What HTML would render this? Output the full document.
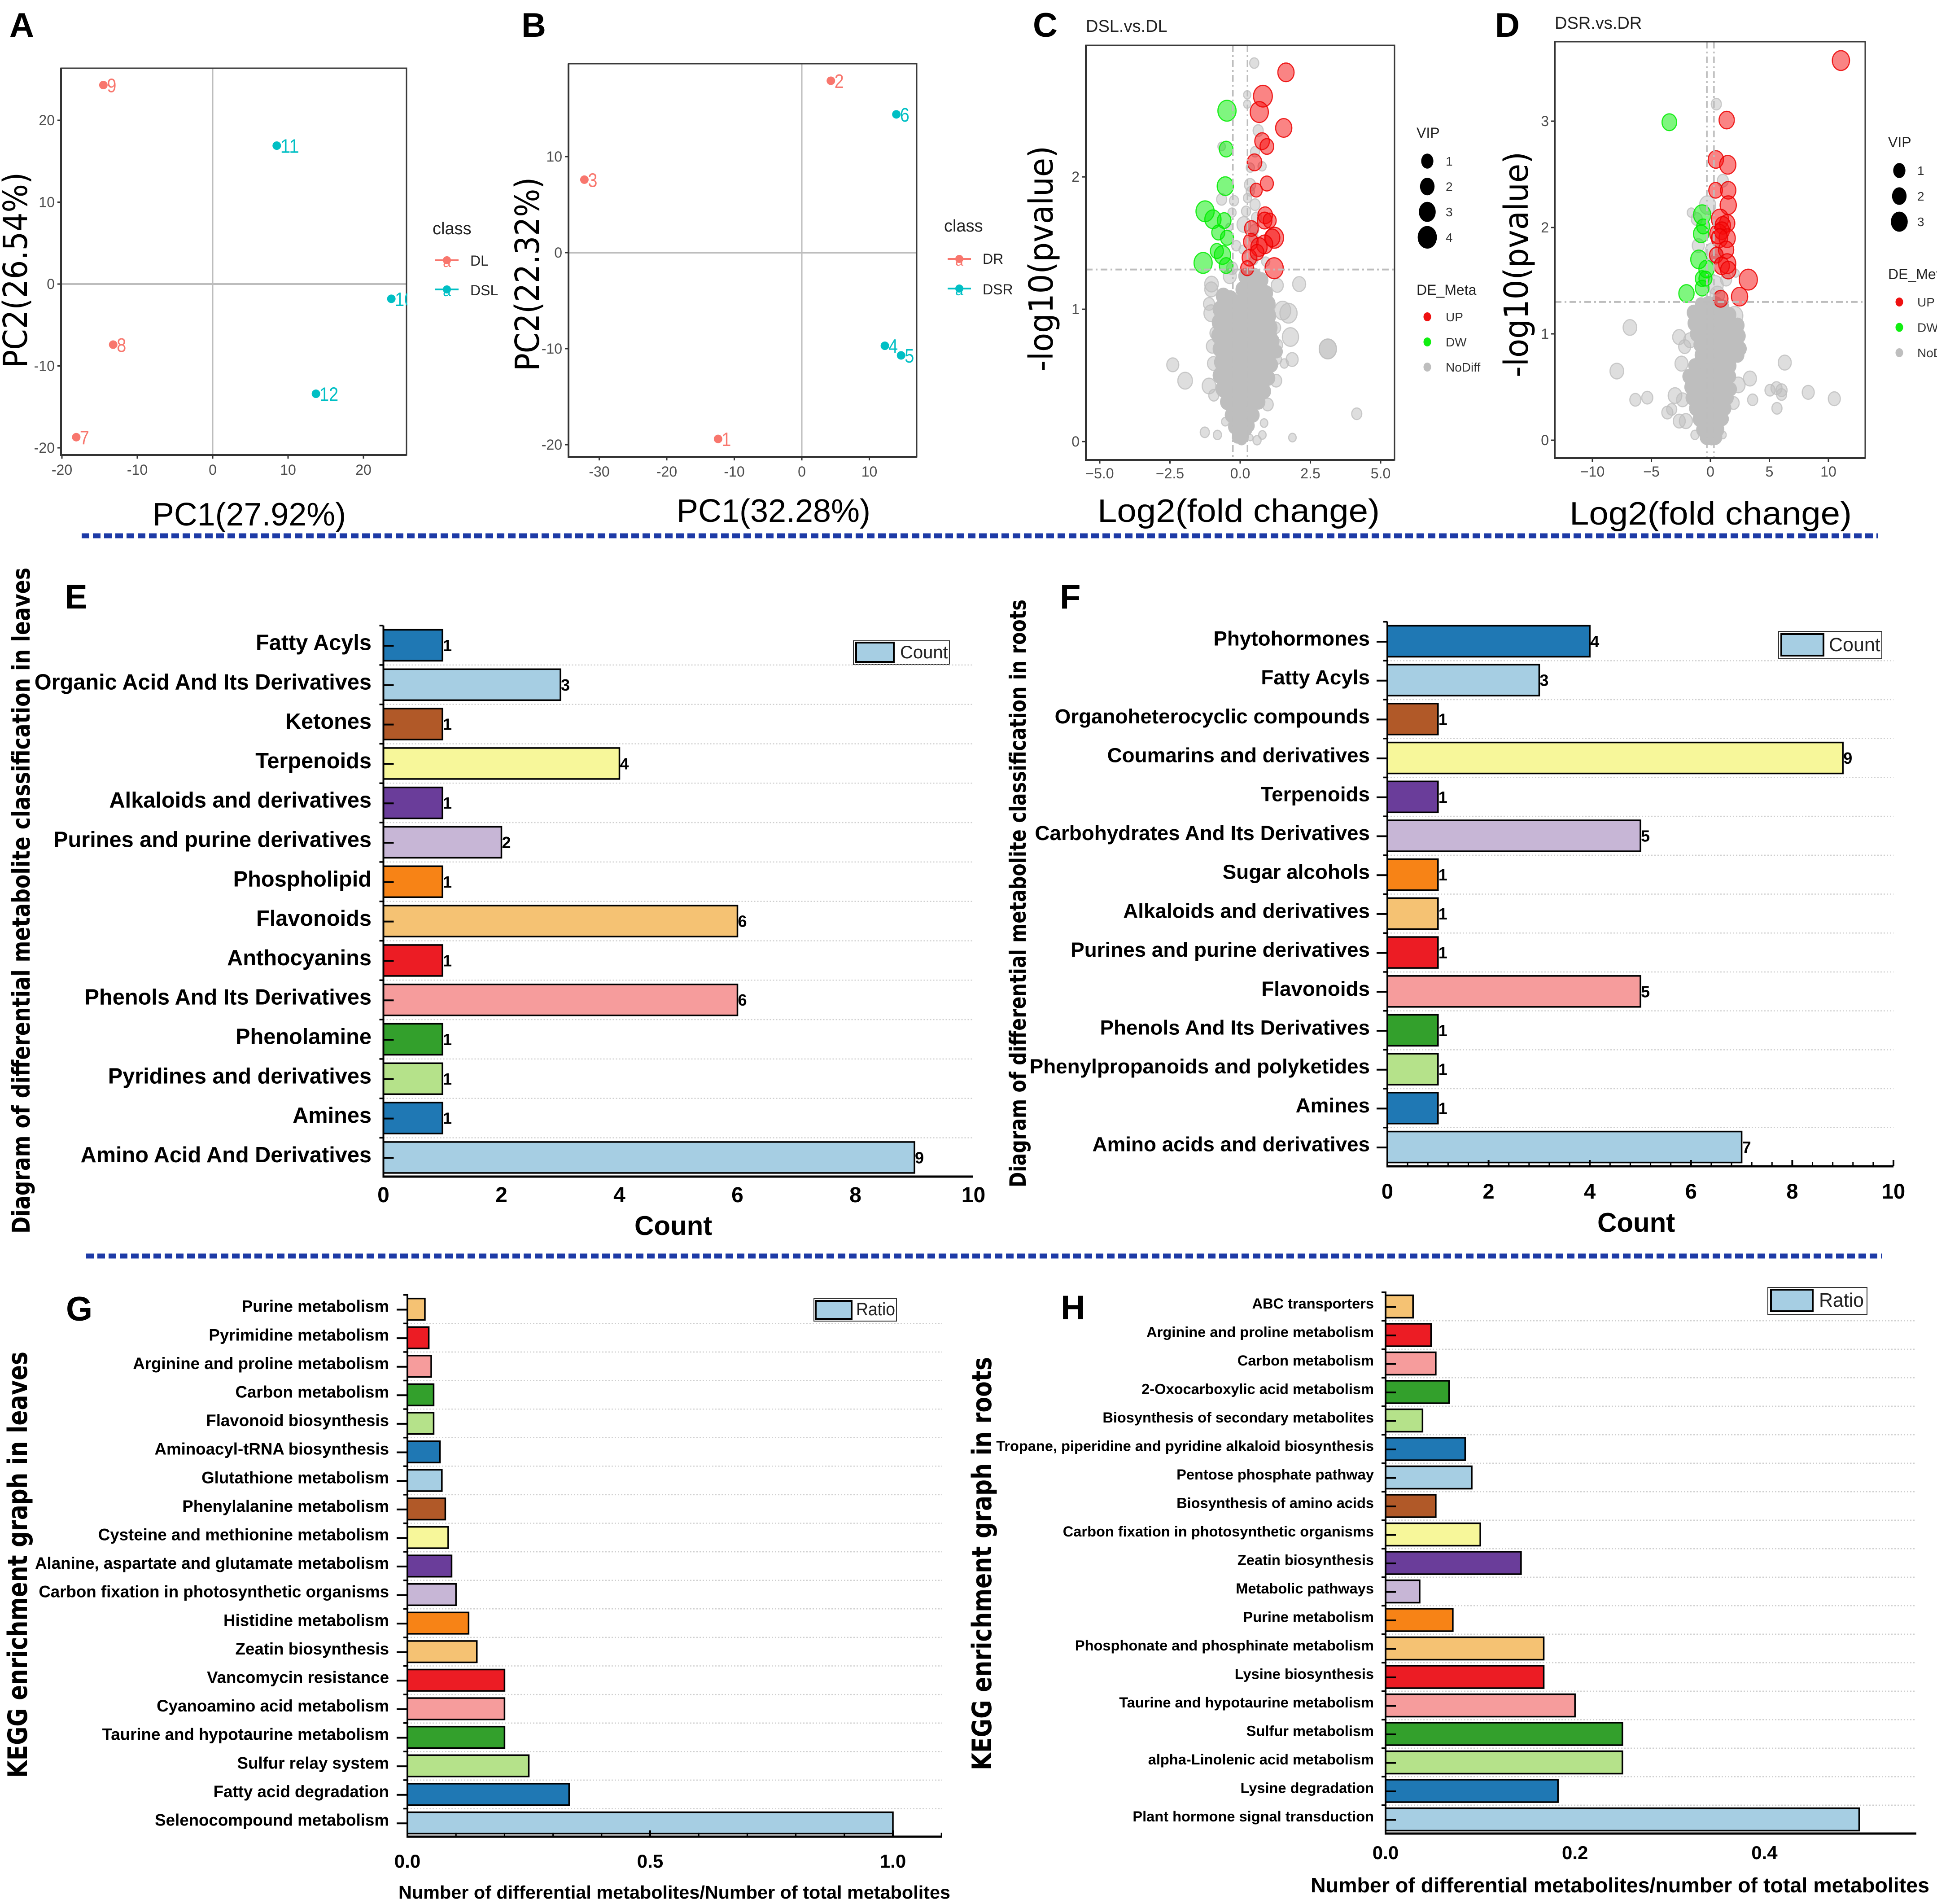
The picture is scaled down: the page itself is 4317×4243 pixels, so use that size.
<!DOCTYPE html>
<html lang="en">
<head>
<meta charset="utf-8">
<title>Metabolomics multi-panel figure</title>
<style>
html,body{margin:0;padding:0;background:#fff;width:4317px;height:4243px;overflow:hidden}
svg{display:block}
text{font-family:"Liberation Sans",sans-serif}
.wide{font-family:"DejaVu Sans",sans-serif}
.wideb{font-family:"DejaVu Sans",sans-serif;font-weight:bold}
.letter{font-size:76px;font-weight:bold;fill:#000}
.tk{font-size:32px;fill:#4d4d4d}
.leg{font-size:32px;fill:#222}
.ttl{font-size:38px;fill:#222}
.legs{font-size:28px;fill:#333}
.big{font-size:72px;fill:#000}
.bold{font-weight:bold;fill:#000}
</style>
</head>
<body>
<svg id="figure" xmlns="http://www.w3.org/2000/svg" width="4317" height="4243" viewBox="0 0 4317 4243">
<defs>
<clipPath id="clipA"><rect x="136" y="152" width="772" height="862"/></clipPath>
</defs>
<rect x="0" y="0" width="4317" height="4243" fill="#fff"/>

<text class="letter" x="21" y="82">A</text>
<text class="letter" x="1162" y="82">B</text>
<text class="letter" x="2302" y="82">C</text>
<text class="letter" x="3332" y="82">D</text>
<text class="letter" x="144" y="1356">E</text>
<text class="letter" x="2362" y="1356">F</text>
<text class="letter" x="147" y="2943">G</text>
<text class="letter" x="2364" y="2940">H</text>

<line x1="182" y1="1194" x2="4186" y2="1194" stroke="#1d3aa6" stroke-width="11" stroke-dasharray="17 8"/>
<line x1="192" y1="2799" x2="4195" y2="2799" stroke="#1d3aa6" stroke-width="11" stroke-dasharray="17 8"/>

<g id="panelA">
<text class="wide" font-size="74" fill="#000" transform="translate(60 820) rotate(-90)" textLength="436" lengthAdjust="spacingAndGlyphs">PC2(26.54%)</text>
<text class="big" x="340" y="1171" textLength="431" lengthAdjust="spacingAndGlyphs">PC1(27.92%)</text>
<text class="ttl" x="964" y="522">class</text>
<text class="leg" x="1048" y="592">DL</text>
<text class="leg" x="1048" y="658">DSL</text>
</g>

<g id="panelB">
<text class="wide" font-size="74" fill="#000" transform="translate(1201 827) rotate(-90)" textLength="432" lengthAdjust="spacingAndGlyphs">PC2(22.32%)</text>
<text class="big" x="1508" y="1163" textLength="432" lengthAdjust="spacingAndGlyphs">PC1(32.28%)</text>
<text class="ttl" x="2104" y="516">class</text>
<text class="leg" x="2190" y="588">DR</text>
<text class="leg" x="2190" y="656">DSR</text>
</g>

<g id="panelC">
<text class="ttl" x="2420" y="71">DSL.vs.DL</text>
<text class="wide" font-size="74" fill="#000" transform="translate(2346 828) rotate(-90)" textLength="503" lengthAdjust="spacingAndGlyphs">-log10(pvalue)</text>
<text class="big" x="2446" y="1163" textLength="629" lengthAdjust="spacingAndGlyphs">Log2(fold change)</text>
<text class="leg" x="3157" y="307">VIP</text>
<text class="leg" x="3157" y="657">DE_Meta</text>
</g>

<g id="panelD">
<text class="ttl" x="3465" y="64">DSR.vs.DR</text>
<text class="wide" font-size="74" fill="#000" transform="translate(3405 841) rotate(-90)" textLength="503" lengthAdjust="spacingAndGlyphs">-log10(pvalue)</text>
<text class="big" x="3498" y="1169" textLength="629" lengthAdjust="spacingAndGlyphs">Log2(fold change)</text>
<text class="leg" x="4208" y="328">VIP</text>
<text class="leg" x="4208" y="622">DE_Meta</text>
</g>

<g id="panelE">
<text class="wideb" font-size="54" fill="#000" transform="translate(66 2749) rotate(-90)" textLength="1484" lengthAdjust="spacingAndGlyphs">Diagram of differential metabolite classification in leaves</text>
<text class="bold" font-size="60" x="1414" y="2752">Count</text>
<rect x="1902" y="1428" width="214" height="53" fill="#fff" stroke="#333" stroke-width="2"/>
<rect x="1908" y="1432" width="84" height="43" fill="#a6cee3" stroke="#000" stroke-width="4"/>
<text font-size="40" fill="#222" x="2006" y="1467">Count</text>
</g>

<g id="panelF">
<text class="wideb" font-size="50" fill="#000" transform="translate(2286 2646) rotate(-90)" textLength="1310" lengthAdjust="spacingAndGlyphs">Diagram of differential metabolite classification in roots</text>
<text class="bold" font-size="60" x="3560" y="2745">Count</text>
<rect x="3964" y="1407" width="230" height="61" fill="#fff" stroke="#333" stroke-width="2"/>
<rect x="3970" y="1413" width="94" height="48" fill="#a6cee3" stroke="#000" stroke-width="4"/>
<text font-size="43" fill="#222" x="4076" y="1451">Count</text>
</g>

<g id="panelG">
<text class="wideb" font-size="60" fill="#000" transform="translate(60 3962) rotate(-90)" textLength="950" lengthAdjust="spacingAndGlyphs">KEGG enrichment graph in leaves</text>
<text class="bold" font-size="41" x="888" y="4231" textLength="1230" lengthAdjust="spacingAndGlyphs">Number of differential metabolites/Number of total metabolites</text>
<rect x="1814" y="2894" width="184" height="50" fill="#fff" stroke="#333" stroke-width="2"/>
<rect x="1818" y="2899" width="80" height="40" fill="#a6cee3" stroke="#000" stroke-width="4"/>
<text font-size="40" fill="#222" x="1908" y="2931" textLength="87" lengthAdjust="spacingAndGlyphs">Ratio</text>
</g>

<g id="panelH">
<text class="wideb" font-size="60" fill="#000" transform="translate(2209 3945) rotate(-90)" textLength="921" lengthAdjust="spacingAndGlyphs">KEGG enrichment graph in roots</text>
<text class="bold" font-size="46" x="2921" y="4217" textLength="1379" lengthAdjust="spacingAndGlyphs">Number of differential metabolites/number of total metabolites</text>
<rect x="3940" y="2869" width="221" height="60" fill="#fff" stroke="#333" stroke-width="2"/>
<rect x="3947" y="2874" width="93" height="48" fill="#a6cee3" stroke="#000" stroke-width="4"/>
<text font-size="44" fill="#222" x="4054" y="2912" textLength="100" lengthAdjust="spacingAndGlyphs">Ratio</text>
</g>
</svg>

<script>
/* ---------- PCA data ---------- */
const aSamples = ['9', '11', '10', '8', '12', '7'];
const aClasses = ['DL', 'DSL', 'DSL', 'DL', 'DSL', 'DL'];
const aPC1 = [-14.5, 8.5, 23.7, -13.2, 13.7, -18.1];
const aPC2 = [24.3, 16.9, -1.8, -7.4, -13.4, -18.7];
const aXTicks = [-20, -10, 0, 10, 20];
const aYTicks = [20, 10, 0, -10, -20];

const bSamples = ['2', '6', '3', '4', '5', '1'];
const bClasses = ['DR', 'DSR', 'DR', 'DSR', 'DSR', 'DR'];
const bPC1 = [4.3, 14.0, -32.2, 12.3, 14.7, -12.4];
const bPC2 = [17.9, 14.4, 7.6, -9.7, -10.7, -19.4];
const bXTicks = [-30, -20, -10, 0, 10];
const bYTicks = [10, 0, -10, -20];

/* ---------- Volcano data: [log2FC, -log10p, VIP] ---------- */
const cUp = [[1.63,2.79,3.5],[.81,2.61,4.3],[.68,2.49,4.1],[1.55,2.37,3.5],[.78,2.27,3],[.95,2.23,2.7],[.51,2.11,3],[.95,1.95,2.5],[.57,1.90,2.2],[.89,1.71,3],[.87,1.67,3],[1.05,1.67,2.5],[.40,1.61,2.7],[1.22,1.54,4.1],[1.14,1.54,3.2],[.38,1.51,3],[.87,1.49,3.5],[.67,1.47,3.5],[.33,1.39,3],[.60,1.43,2.7],[1.21,1.31,4.1],[.25,1.31,2.5]];
const cDown = [[-.47,2.50,4.1],[-.50,2.21,2.7],[-.53,1.93,3.5],[-1.25,1.74,4.1],[-.97,1.68,3.5],[-.57,1.67,2.7],[-.78,1.58,2.5],[-.47,1.54,2.5],[-.83,1.44,2.5],[-.63,1.41,3.5],[-1.32,1.35,4.1],[-.50,1.33,2.7]];
const cNoDiff = [[.50,2.86,1.3],[.25,2.62,.7],[.25,2.55,.7],[.64,2.35,1.6],[-.66,2.23,.8],[.53,2.19,1.3],[.78,2.08,1],[.36,2.07,1],[.35,1.94,1.9],[.36,1.89,1],[.26,1.84,1],[-.66,1.83,1.6],[-.22,1.82,1.3],[.53,1.79,1.6],[-.29,1.73,1],[.21,1.74,1.3],[.13,1.64,2.7],[.58,1.69,1.6],[-.39,1.62,.6],[.50,1.60,1.3],[.48,1.54,1.3],[-.14,1.48,1.3],[.09,1.45,.8],[.48,1.37,1],[.91,1.36,1],[-.29,1.31,1.9],[-.37,1.25,2.5],[-1.02,1.19,2.7],[-1.03,1.15,2.5],[2.10,1.19,2.5],[1.32,1.18,2.2],[1.51,.99,3.5],[1.72,.97,3.8],[-1.11,1.04,1.9],[-1.03,.97,3],[1.26,.86,1.6],[1.79,.79,3.5],[3.12,.70,3.8],[3.12,.70,3.8],[-.99,.72,2.2],[-.88,.82,1.9],[1.33,.73,1.6],[1.85,.62,2.2],[-.95,.59,2.2],[1.57,.59,1],[1.33,.62,1],[-2.40,.58,2.2],[-1.96,.46,3],[-1.11,.42,2.7],[1.28,.46,1.9],[-.94,.35,1.6],[.98,.28,1.9],[4.15,.21,1.6],[.85,.14,.8],[-1.26,.07,1.3],[-.81,.05,1],[-.53,.15,.8],[.79,.05,.8],[.60,.01,1],[.36,.03,.2],[1.86,.03,.8]];
const cDense = [[.2,1.25,2.8],[.5,1.25,2.8],[.75,1.22,2.6],[.1,1.15,2.8],[.4,1.15,3],[.7,1.15,3],[.9,1.12,2.8],[-.6,1.1,2.8],[-.35,1.08,2.8],[.1,1.06,3],[.4,1.06,3],[.7,1.06,3],[.98,1.04,3],[-.7,1,3],[-.4,1,3.5],[-.2,.98,3],[.15,.98,3.5],[.45,.98,3.5],[.75,.98,3.5],[1,.95,3],[-.7,.9,3.5],[-.4,.9,3.5],[-.15,.9,3],[.1,.88,3],[.4,.9,3.5],[.7,.9,3.5],[1.05,.86,3],[-.75,.8,3],[-.45,.8,3.5],[-.15,.8,3.5],[.1,.8,3.5],[.4,.8,3.5],[.7,.8,3.5],[1,.8,3.5],[1.15,.76,2.5],[-.7,.7,3],[-.4,.7,3.5],[-.1,.7,3.5],[.2,.7,3.5],[.5,.7,3.5],[.8,.7,3.5],[1.1,.68,3],[1.3,.68,2],[-.65,.6,3],[-.35,.6,3.5],[-.05,.6,3.5],[.25,.6,3.5],[.55,.6,3.5],[.85,.6,3.5],[1.1,.58,2.5],[-.7,.5,3],[-.4,.5,3.5],[-.1,.5,3.5],[.2,.5,3.5],[.5,.5,3.5],[.8,.5,3.5],[1,.48,2.5],[-.6,.4,3],[-.3,.4,3.5],[0,.4,3.5],[.3,.4,3.5],[.6,.4,3.5],[.85,.38,2.5],[-.45,.3,2.8],[-.2,.3,3],[.1,.3,3.5],[.4,.3,3],[.65,.3,2.5],[-.3,.2,2.5],[-.05,.2,3],[.2,.2,3],[.45,.2,2.4],[-.2,.11,2.2],[0,.1,2.6],[.2,.1,2.5],[.3,.12,2],[-.1,.03,1.6],[.05,.02,1.8],[.12,.04,1.6]];

const dUp = [[11.06,3.57,3.8],[1.38,3.01,3.2],[.46,2.64,3.2],[1.47,2.59,3.5],[.44,2.35,2.7],[1.51,2.35,3.2],[1.51,2.21,3.5],[.81,2.08,3.8],[1.42,2.04,3.2],[1.05,2.02,3.2],[.68,1.94,3.8],[.96,1.97,3.2],[1.42,1.90,3.5],[.77,1.90,3.5],[1.33,1.79,3.2],[.50,1.74,2.7],[1.42,1.66,3.8],[.96,1.64,3.2],[1.51,1.60,3.2],[3.21,1.51,4.1],[2.47,1.35,3.5],[.87,1.33,3]];
const dDown = [[-3.48,2.99,3],[-.70,2.12,3.8],[-.79,1.94,3.2],[-.61,2.01,2.5],[-.98,1.70,3.5],[-.33,1.61,3.2],[-.70,1.52,2.7],[-.42,1.52,2.5],[-.70,1.43,2.7],[-2.03,1.38,3.2]];
const dNoDiff = [[.5,3.16,1.6],[1.05,2.44,1.9],[-.24,2.21,3.5],[-1.62,2.14,1],[-1.16,2.08,1.9],[-1.03,1.83,2.2],[.22,1.77,3.5],[.37,1.70,1.3],[1.33,1.51,1.9],[2.15,1.57,.6],[.4,1.46,3.5],[.59,1.37,3],[.59,1.3,1],[2.06,1.17,3.5],[-6.82,1.06,2.7],[-2.65,.97,2.5],[-1.71,.94,2.5],[-2.18,.88,2.2],[-2.45,.72,2.5],[-7.93,.65,2.7],[6.3,.73,2.5],[3.35,.58,2.5],[2.36,.52,2.7],[5.05,.47,1.6],[5.6,.49,1.9],[6.03,.47,1.9],[6.03,.43,1.6],[8.29,.45,2.2],[10.5,.39,2.2],[3.58,.38,1.6],[5.64,.30,1.6],[-6.36,.38,1.9],[-5.35,.40,1.9],[-3,.42,2.7],[-2.36,.38,2.2],[-3.65,.26,1.9],[-3.28,.29,1.6],[-2.64,.18,2.2],[-2.08,.18,2.5],[-1.31,.05,1],[1.05,.05,.6],[1.97,.35,1.9],[1.14,.2,1.3]];
const dDense = [[-.8,1.28,2],[-.2,1.28,2.6],[.4,1.28,2.6],[1,1.25,2.6],[-1.4,1.2,2.6],[-.8,1.2,2.8],[-.2,1.2,2.8],[.4,1.2,2.8],[1,1.2,2.8],[1.6,1.18,2.5],[-1.3,1.1,2.8],[-.7,1.1,2.8],[-.1,1.1,2.8],[.5,1.1,2.8],[1.1,1.1,2.8],[1.7,1.1,2.8],[2.3,1.08,2.5],[-1.1,1,2.8],[-.5,1,2.8],[.1,1,2.8],[.7,1,2.8],[1.3,1,2.8],[1.9,1,2.8],[2.4,.98,2.5],[-.8,.9,2.8],[-.2,.9,2.8],[.4,.9,2.8],[1,.9,2.8],[1.6,.9,2.8],[2.2,.9,2.8],[2.5,.86,2.4],[-.7,.8,2.8],[-.1,.8,2.8],[.5,.8,2.8],[1.1,.8,2.8],[1.7,.8,2.8],[2.3,.8,2.4],[-1.3,.7,2.4],[-.7,.7,2.8],[-.1,.7,2.8],[.5,.7,2.8],[1.1,.7,2.8],[1.6,.7,2.6],[-1.8,.6,2.4],[-1.2,.6,2.8],[-.6,.6,2.8],[0,.6,2.8],[.6,.6,2.8],[1.2,.6,2.8],[1.6,.6,2.4],[-1.6,.5,2.6],[-1,.5,2.8],[-.4,.5,2.8],[.2,.5,2.8],[.8,.5,2.8],[1.4,.5,2.8],[1.7,.48,2.2],[-1.5,.4,2.6],[-.9,.4,2.8],[-.3,.4,2.8],[.3,.4,2.8],[.9,.4,2.8],[1.4,.4,2.4],[-1.2,.3,2.6],[-.6,.3,2.8],[0,.3,2.8],[.6,.3,2.8],[1.2,.3,2.4],[-.9,.2,2.6],[-.4,.2,2.8],[.1,.2,2.8],[.6,.2,2.8],[1,.2,2.2],[-.6,.1,2.6],[-.2,.1,2.8],[.2,.1,2.8],[.6,.1,2.4],[-.3,.03,2.6],[.1,.03,2.8],[.4,.03,2.6]];

const cXTicks = [-5, -2.5, 0, 2.5, 5];
const cXTickText = ['\u22125.0', '\u22122.5', '0.0', '2.5', '5.0'];
const cYTicks = [0, 1, 2];
const dXTicks = [-10, -5, 0, 5, 10];
const dXTickText = ['\u221210', '\u22125', '0', '5', '10'];
const dYTicks = [0, 1, 2, 3];
const cVipLevels = [1, 2, 3, 4];
const dVipLevels = [1, 2, 3];
const deLevels = ['UP', 'DW', 'NoDiff'];

/* ---------- Bar chart data (top to bottom) ---------- */
const eCategories = ['Fatty Acyls','Organic Acid And Its Derivatives','Ketones','Terpenoids','Alkaloids and derivatives','Purines and purine derivatives','Phospholipid','Flavonoids','Anthocyanins','Phenols And Its Derivatives','Phenolamine','Pyridines and derivatives','Amines','Amino Acid And Derivatives'];
const eValues = [1,3,1,4,1,2,1,6,1,6,1,1,1,9];
const eTicks = [0,2,4,6,8,10];

const fCategories = ['Phytohormones','Fatty Acyls','Organoheterocyclic compounds','Coumarins and derivatives','Terpenoids','Carbohydrates And Its Derivatives','Sugar alcohols','Alkaloids and derivatives','Purines and purine derivatives','Flavonoids','Phenols And Its Derivatives','Phenylpropanoids and polyketides','Amines','Amino acids and derivatives'];
const fValues = [4,3,1,9,1,5,1,1,1,5,1,1,1,7];
const fTicks = [0,2,4,6,8,10];
const fMinorTicks = [.4,.8,1.2,1.6,2.4,2.8,3.2,3.6,4.4,4.8,5.2,5.6,6.4,6.8,7.2,7.6,8.4,8.8,9.2,9.6];

const gCategories = ['Purine metabolism','Pyrimidine metabolism','Arginine and proline metabolism','Carbon metabolism','Flavonoid biosynthesis','Aminoacyl-tRNA biosynthesis','Glutathione metabolism','Phenylalanine metabolism','Cysteine and methionine metabolism','Alanine, aspartate and glutamate metabolism','Carbon fixation in photosynthetic organisms','Histidine metabolism','Zeatin biosynthesis','Vancomycin resistance','Cyanoamino acid metabolism','Taurine and hypotaurine metabolism','Sulfur relay system','Fatty acid degradation','Selenocompound metabolism'];
const gValues = [.036,.044,.049,.054,.054,.067,.071,.078,.084,.091,.1,.126,.143,.2,.2,.2,.25,.333,1];
const gTicks = [0,.5,1];
const gTickText = ['0.0','0.5','1.0'];
const gMinorTicks = [.1,.2,.3,.4,.6,.7,.8,.9,1.1];

const hCategories = ['ABC transporters','Arginine and proline metabolism','Carbon metabolism','2-Oxocarboxylic acid metabolism','Biosynthesis of secondary metabolites','Tropane, piperidine and pyridine alkaloid biosynthesis','Pentose phosphate pathway','Biosynthesis of amino acids','Carbon fixation in photosynthetic organisms','Zeatin biosynthesis','Metabolic pathways','Purine metabolism','Phosphonate and phosphinate metabolism','Lysine biosynthesis','Taurine and hypotaurine metabolism','Sulfur metabolism','alpha-Linolenic acid metabolism','Lysine degradation','Plant hormone signal transduction'];
const hValues = [.029,.048,.053,.067,.039,.084,.091,.053,.1,.143,.036,.071,.167,.167,.2,.25,.25,.182,.5];
const hTicks = [0,.2,.4];
const hTickText = ['0.0','0.2','0.4'];

const barPalette = ['#a6cee3','#1f78b4','#b5e28a','#33a02c','#f69c9c','#ec1c24','#f5c273','#f78316','#c7b6d6','#6a3d9a','#f7f79a','#b15928'];

/* ---------- helpers ---------- */
const NS = 'http://www.w3.org/2000/svg';
function make(tag, parent, attrs) {
  const el = document.createElementNS(NS, tag);
  for (const k in attrs) el.setAttribute(k, attrs[k]);
  parent.appendChild(el);
  return el;
}
function label(parent, x, y, str, attrs) {
  const el = make('text', parent, Object.assign({x: x, y: y}, attrs));
  el.textContent = str;
  return el;
}
function group(id) { return document.getElementById(id); }

/* ---------- PCA ---------- */
function drawFrame(g, box, name) {
  const fr = make('rect', g, {x: box.l, y: box.t, width: box.r - box.l, height: box.b - box.t, fill: 'none', stroke: '#3a3a3a', 'stroke-width': 3});
  
  
  const ax = make('path', g, {d: 'M' + box.l + ' ' + box.t + 'V' + box.b + 'H' + box.r, fill: 'none', stroke: '#333', 'stroke-width': 4});
  
  
}
function drawAxisTicks(g, box, name, xs, xText, ys, xFn, yFn, xBase, yRight) {
  xs.forEach(function (v, i) {
    const t = make('line', g, {x1: xFn(v), x2: xFn(v), y1: box.b, y2: box.b + 8, stroke: '#333', 'stroke-width': 3});
    
    
    const s = label(g, xFn(v), xBase, xText[i], {'text-anchor': 'middle', 'class': 'tk'});
    
    
  });
  ys.forEach(function (v) {
    const t = make('line', g, {x1: box.l - 8, x2: box.l, y1: yFn(v), y2: yFn(v), stroke: '#333', 'stroke-width': 3});
    
    
    const s = label(g, yRight, yFn(v) + 11, String(v), {'text-anchor': 'end', 'class': 'tk'});
    
    
  });
}
const classColor = {DL: '#f8766d', DR: '#f8766d', DSL: '#00bfc4', DSR: '#00bfc4'};
function drawPCA(g, name, box, xFn, yFn, samples, classes, pc1, pc2, xTicks, yTicks, clip) {
  const zx = make('line', g, {x1: box.l, x2: box.r, y1: yFn(0), y2: yFn(0), stroke: '#bdbdbd', 'stroke-width': 4});
  
  
  const zy = make('line', g, {x1: xFn(0), x2: xFn(0), y1: box.t, y2: box.b, stroke: '#bdbdbd', 'stroke-width': 3});
  
  
  drawFrame(g, box, name);
  drawAxisTicks(g, box, name, xTicks, xTicks.map(String), yTicks, xFn, yFn, box.b + 44, box.l - 14);
  samples.forEach(function (s, i) {
    const c = classColor[classes[i]];
    const p = make('circle', g, {cx: xFn(pc1[i]), cy: yFn(pc2[i]), r: 9.5, fill: c});
    
    
    const attrs = {fill: c, 'font-size': 44, textLength: s.length * 21, lengthAdjust: 'spacingAndGlyphs'};
    if (clip) attrs['clip-path'] = clip;
    const t = label(g, xFn(pc1[i]) + 8, yFn(pc2[i]) + 16, s, attrs);
    
    
  });
}
function drawClassKey(g, cx, y, color, name) {
  const l = make('line', g, {x1: cx - 26, x2: cx + 26, y1: y, y2: y, stroke: color, 'stroke-width': 4});
  
  
  const d = make('circle', g, {cx: cx, cy: y, r: 9, fill: color});
  
  
  const a = label(g, cx, y + 15, 'a', {fill: color, 'font-size': 32, 'text-anchor': 'middle'});
  
  
}

drawPCA(group('panelA'), 'pca-a', {l: 136, r: 906, t: 152, b: 1014},
  function (v) { return 474 + v * 16.8; }, function (v) { return 633 - v * 18.25; },
  aSamples, aClasses, aPC1, aPC2, aXTicks, aYTicks, 'url(#clipA)');
drawClassKey(group('panelA'), 996, 580, '#f8766d', 'legend-key-dl');
drawClassKey(group('panelA'), 996, 645, '#00bfc4', 'legend-key-dsl');

drawPCA(group('panelB'), 'pca-b', {l: 1267, r: 2043, t: 142, b: 1018},
  function (v) { return 1787 + v * 15.05; }, function (v) { return 563 - v * 21.4; },
  bSamples, bClasses, bPC1, bPC2, bXTicks, bYTicks, null);
drawClassKey(group('panelB'), 2138, 577, '#f8766d', 'legend-key-dr');
drawClassKey(group('panelB'), 2138, 643, '#00bfc4', 'legend-key-dsr');

/* ---------- Volcano ---------- */
function vipRadius(v) { return 5.5 + 3.6 * v; }
function drawVolcano(g, name, box, xFn, yFn, up, down, noDiff, dense, xTicks, xText, yTicks, vLine, xBase, yRight) {
  noDiff.forEach(function (p) {
    const c = make('ellipse', g, {cx: xFn(p[0]), cy: yFn(p[1]), rx: vipRadius(p[2]), ry: vipRadius(p[2]) * 1.15, fill: 'rgba(190,190,190,.5)', stroke: 'rgba(190,190,190,.8)', 'stroke-width': 2.5});
    
    
  });
  dense.forEach(function (p) {
    const c = make('ellipse', g, {cx: xFn(p[0]), cy: yFn(p[1]), rx: vipRadius(p[2]) * 1.08, ry: vipRadius(p[2]) * 1.2, fill: '#bebebe'});
    
    
  });
  down.forEach(function (p) {
    const c = make('ellipse', g, {cx: xFn(p[0]), cy: yFn(p[1]), rx: vipRadius(p[2]), ry: vipRadius(p[2]) * 1.15, fill: 'rgba(0,238,0,.5)', stroke: 'rgba(0,235,0,.85)', 'stroke-width': 2.5});
    
    
  });
  up.forEach(function (p) {
    const c = make('ellipse', g, {cx: xFn(p[0]), cy: yFn(p[1]), rx: vipRadius(p[2]), ry: vipRadius(p[2]) * 1.15, fill: 'rgba(245,10,10,.5)', stroke: 'rgba(235,0,0,.85)', 'stroke-width': 2.5});
    
    
  });
  const h = make('line', g, {x1: box.l, x2: box.r, y1: yFn(1.3), y2: yFn(1.3), stroke: '#bdbdbd', 'stroke-width': 4, 'stroke-dasharray': '15 7 4 7'});
  
  
  [-vLine, vLine].forEach(function (v) {
    const l = make('line', g, {x1: xFn(v), x2: xFn(v), y1: box.t, y2: box.b, stroke: '#bdbdbd', 'stroke-width': 3.5, 'stroke-dasharray': '15 7 4 7'});
    
    
  });
  drawFrame(g, box, name);
  drawAxisTicks(g, box, name, xTicks, xText, yTicks, xFn, yFn, xBase, yRight);
}
function drawVolcanoLegend(g, name, vipLevels, dotX, textX, vipY0, vipStep, deY0, deStep) {
  vipLevels.forEach(function (v, i) {
    const y = vipY0 + i * vipStep;
    const d = make('ellipse', g, {cx: dotX, cy: y, rx: 11 + 2.6 * v, ry: 14 + 2.8 * v, fill: '#000'});
    
    
    const t = label(g, textX, y + 10, String(v), {'class': 'legs'});
    
    
  });
  const deColors = ['#ee1111', '#11ee11', '#bebebe'];
  deLevels.forEach(function (lvl, i) {
    const y = deY0 + i * deStep;
    const d = make('ellipse', g, {cx: dotX, cy: y, rx: 8.5, ry: 10, fill: deColors[i]});
    
    
    const t = label(g, textX, y + 10, lvl, {'class': 'legs'});
    
    
  });
}

drawVolcano(group('panelC'), 'volcano-c', {l: 2420, r: 3108, t: 101, b: 1025},
  function (v) { return 2764 + v * 62.6; }, function (v) { return 984 - v * 294.9; },
  cUp, cDown, cNoDiff, cDense, cXTicks, cXTickText, cYTicks, .26, 1066, 2406);
drawVolcanoLegend(group('panelC'), 'volcano-c', cVipLevels, 3181, 3222, 359, 56.6, 706, 56);

drawVolcano(group('panelD'), 'volcano-d', {l: 3465, r: 4157, t: 93, b: 1021},
  function (v) { return 3812 + v * 26.3; }, function (v) { return 981 - v * 237; },
  dUp, dDown, dNoDiff, dDense, dXTicks, dXTickText, dYTicks, .3, 1062, 3452);
drawVolcanoLegend(group('panelD'), 'volcano-d', dVipLevels, 4233, 4273, 380, 57, 673, 56.5);

/* ---------- Bar charts ---------- */
function drawBars(g, name, cfg, cats, vals, ticks, tickText, minor) {
  const xFn = function (v) { return cfg.x0 + v * cfg.unit; };
  const yFn = function (i) { return cfg.first + i * cfg.step; };
  for (let i = 0; i < cats.length - 1; i++) {
    const gy = yFn(i) + cfg.step / 2;
    const gl = make('line', g, {x1: cfg.x0, x2: cfg.xEnd, y1: gy, y2: gy, stroke: '#cfcfcf', 'stroke-width': 2.5, 'stroke-dasharray': '3 4'});
    
    
  }
  cats.forEach(function (cat, i) {
    const y = yFn(i);
    const col = barPalette[(cats.length - 1 - i) % barPalette.length];
    const bar = make('rect', g, {x: cfg.x0, y: y - cfg.barH / 2, width: vals[i] * cfg.unit, height: cfg.barH, fill: col, stroke: '#000', 'stroke-width': 3.5});
    
    
    const tx1 = cfg.tickInside ? cfg.x0 : cfg.x0 - 24;
    const tx2 = cfg.tickInside ? cfg.x0 + 23 : cfg.x0;
    const tk = make('line', g, {x1: tx1, x2: tx2, y1: y + 1, y2: y + 1, stroke: '#000', 'stroke-width': 4});
    
    
    const bt = make('line', g, {x1: cfg.x0 - 9, x2: cfg.x0, y1: y - cfg.step / 2, y2: y - cfg.step / 2, stroke: '#000', 'stroke-width': 3.5});
    
    
    const cl = label(g, cfg.labelX, y - 7 + cfg.font * 0.36, cat, {'text-anchor': 'end', 'font-size': cfg.font, 'font-weight': 'bold', fill: '#000'});
    
    
    if (cfg.showValues) {
      const vl = label(g, xFn(vals[i]) + 1, y + 13, String(vals[i]), {'font-size': 36, 'font-weight': 'bold', fill: '#000'});
      
      
    }
  });
  const ya = make('line', g, {x1: cfg.x0, x2: cfg.x0, y1: cfg.axisTop, y2: cfg.axisY, stroke: '#000', 'stroke-width': 4});
  
  
  const xa = make('line', g, {x1: cfg.x0 - 2, x2: cfg.xEnd, y1: cfg.axisY, y2: cfg.axisY, stroke: '#000', 'stroke-width': 5});
  
  
  ticks.forEach(function (v, i) {
    if (minor) {
      const t = make('line', g, {x1: xFn(v), x2: xFn(v), y1: cfg.axisY - 14, y2: cfg.axisY, stroke: '#000', 'stroke-width': 4});
      
      
    }
    const s = label(g, xFn(v), cfg.tickBase, tickText[i], {'text-anchor': 'middle', 'font-size': cfg.tickFont, 'font-weight': 'bold', fill: '#000'});
    
    
  });
  if (minor) minor.forEach(function (v) {
    const t = make('line', g, {x1: xFn(v), x2: xFn(v), y1: cfg.axisY - 9, y2: cfg.axisY, stroke: '#000', 'stroke-width': 3});
    
    
  });
}

drawBars(group('panelE'), 'bars-e', {x0: 854.5, unit: 131.5, first: 1438, step: 87.8, barH: 69, axisTop: 1394, axisY: 2622, xEnd: 2169, labelX: 828, font: 48.7, tickBase: 2679, tickFont: 48, tickInside: true, showValues: true}, eCategories, eValues, eTicks, eTicks.map(String), null);
drawBars(group('panelF'), 'bars-f', {x0: 3092, unit: 112.8, first: 1429, step: 86.7, barH: 69, axisTop: 1385, axisY: 2599, xEnd: 4220, labelX: 3053, font: 45.8, tickBase: 2671, tickFont: 47, tickInside: false, showValues: true}, fCategories, fValues, fTicks, fTicks.map(String), fMinorTicks);
drawBars(group('panelG'), 'bars-g', {x0: 908, unit: 1082, first: 2917.5, step: 63.6, barH: 47.6, axisTop: 2883, axisY: 4093, xEnd: 2100, labelX: 867, font: 36.7, tickBase: 4162, tickFont: 42, tickInside: false, showValues: false}, gCategories, gValues, gTicks, gTickText, gMinorTicks);
drawBars(group('panelH'), 'bars-h', {x0: 3088, unit: 2111, first: 2911.5, step: 63.5, barH: 50, axisTop: 2878, axisY: 4086, xEnd: 4271, labelX: 3062, font: 32.6, tickBase: 4143, tickFont: 42, tickInside: true, showValues: false}, hCategories, hValues, hTicks, hTickText, null);
</script>
</body>
</html>
